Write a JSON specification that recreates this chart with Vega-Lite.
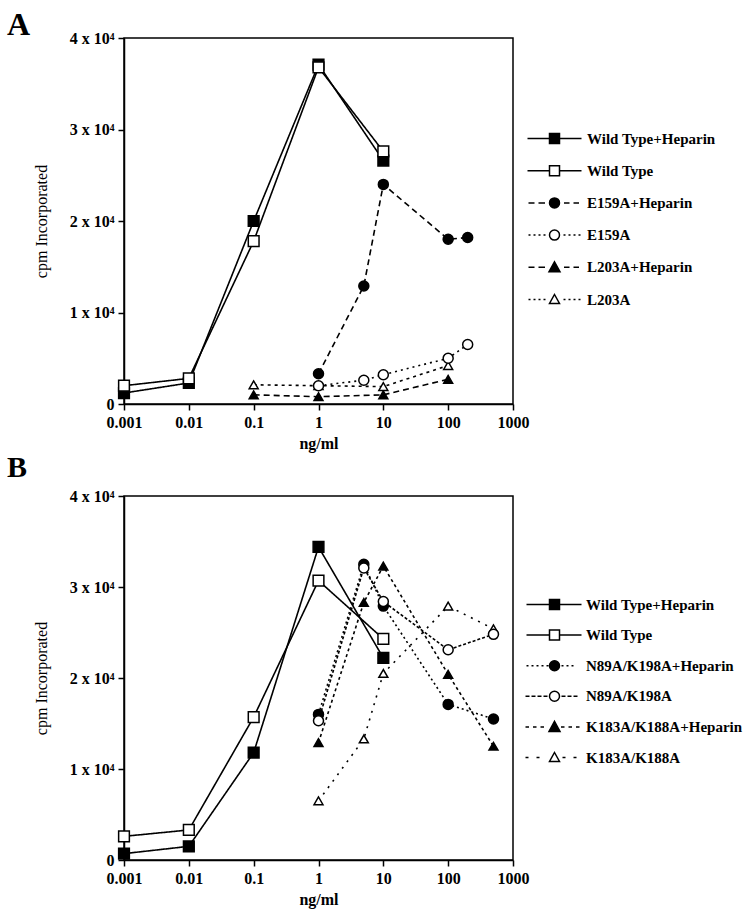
{
  "$schema": "https://vega.github.io/schema/vega-lite/v6.json",
  "padding": {"left": 6, "top": 8, "right": 5, "bottom": 5},
  "background": "white",
  "spacing": 0,
  "datasets": {
    "A": [
      {"series": "Wild Type+Heparin", "conc": 0.001, "cpm": 1200},
      {"series": "Wild Type+Heparin", "conc": 0.01, "cpm": 2300},
      {"series": "Wild Type+Heparin", "conc": 0.1, "cpm": 20000},
      {"series": "Wild Type+Heparin", "conc": 1, "cpm": 37100},
      {"series": "Wild Type+Heparin", "conc": 10, "cpm": 26600},
      {"series": "Wild Type", "conc": 0.001, "cpm": 2000},
      {"series": "Wild Type", "conc": 0.01, "cpm": 2800},
      {"series": "Wild Type", "conc": 0.1, "cpm": 17800},
      {"series": "Wild Type", "conc": 1, "cpm": 36800},
      {"series": "Wild Type", "conc": 10, "cpm": 27600},
      {"series": "E159A+Heparin", "conc": 1, "cpm": 3300},
      {"series": "E159A+Heparin", "conc": 5, "cpm": 12900},
      {"series": "E159A+Heparin", "conc": 10, "cpm": 24000},
      {"series": "E159A+Heparin", "conc": 100, "cpm": 18000},
      {"series": "E159A+Heparin", "conc": 200, "cpm": 18200},
      {"series": "E159A", "conc": 1, "cpm": 2000},
      {"series": "E159A", "conc": 5, "cpm": 2600},
      {"series": "E159A", "conc": 10, "cpm": 3200},
      {"series": "E159A", "conc": 100, "cpm": 5000},
      {"series": "E159A", "conc": 200, "cpm": 6500},
      {"series": "L203A+Heparin", "conc": 0.1, "cpm": 1000},
      {"series": "L203A+Heparin", "conc": 1, "cpm": 800},
      {"series": "L203A+Heparin", "conc": 10, "cpm": 1000},
      {"series": "L203A+Heparin", "conc": 100, "cpm": 2700},
      {"series": "L203A", "conc": 0.1, "cpm": 2100},
      {"series": "L203A", "conc": 1, "cpm": 2000},
      {"series": "L203A", "conc": 10, "cpm": 1900},
      {"series": "L203A", "conc": 100, "cpm": 4200}
    ],
    "B": [
      {"series": "Wild Type+Heparin", "conc": 0.001, "cpm": 700},
      {"series": "Wild Type+Heparin", "conc": 0.01, "cpm": 1500},
      {"series": "Wild Type+Heparin", "conc": 0.1, "cpm": 11800},
      {"series": "Wild Type+Heparin", "conc": 1, "cpm": 34400},
      {"series": "Wild Type+Heparin", "conc": 10, "cpm": 22200},
      {"series": "Wild Type", "conc": 0.001, "cpm": 2600},
      {"series": "Wild Type", "conc": 0.01, "cpm": 3300},
      {"series": "Wild Type", "conc": 0.1, "cpm": 15700},
      {"series": "Wild Type", "conc": 1, "cpm": 30700},
      {"series": "Wild Type", "conc": 10, "cpm": 24300},
      {"series": "N89A/K198A+Heparin", "conc": 1, "cpm": 16000},
      {"series": "N89A/K198A+Heparin", "conc": 5, "cpm": 32500},
      {"series": "N89A/K198A+Heparin", "conc": 10, "cpm": 27900},
      {"series": "N89A/K198A+Heparin", "conc": 100, "cpm": 17100},
      {"series": "N89A/K198A+Heparin", "conc": 500, "cpm": 15500},
      {"series": "N89A/K198A", "conc": 1, "cpm": 15300},
      {"series": "N89A/K198A", "conc": 5, "cpm": 32100},
      {"series": "N89A/K198A", "conc": 10, "cpm": 28400},
      {"series": "N89A/K198A", "conc": 100, "cpm": 23100},
      {"series": "N89A/K198A", "conc": 500, "cpm": 24800},
      {"series": "K183A/K188A+Heparin", "conc": 1, "cpm": 12900},
      {"series": "K183A/K188A+Heparin", "conc": 5, "cpm": 28300},
      {"series": "K183A/K188A+Heparin", "conc": 10, "cpm": 32300},
      {"series": "K183A/K188A+Heparin", "conc": 100, "cpm": 20400},
      {"series": "K183A/K188A+Heparin", "conc": 500, "cpm": 12500},
      {"series": "K183A/K188A", "conc": 1, "cpm": 6500},
      {"series": "K183A/K188A", "conc": 5, "cpm": 13300},
      {"series": "K183A/K188A", "conc": 10, "cpm": 20500},
      {"series": "K183A/K188A", "conc": 100, "cpm": 27900},
      {"series": "K183A/K188A", "conc": 500, "cpm": 25400}
    ]
  },
  "vconcat": [
    {
      "title": {"text": "A", "anchor": "start", "frame": "group", "fontSize": 32, "fontWeight": "bold", "font": "Liberation Serif", "dx": -117, "offset": -12, "color": "black"},
      "width": 389,
      "height": 366,
      "data": {"name": "A"},
      "encoding": {
        "x": {"field": "conc", "type": "quantitative", "scale": {"type": "log", "domain": [0.001, 1000]}, "axis": {"values": [0.001, 0.01, 0.1, 1, 10, 100, 1000], "format": "~g", "title": "ng/ml", "labelFlush": false, "labelFont": "Liberation Serif", "labelFontSize": 16, "labelFontWeight": "bold", "labelPadding": 4, "titleFont": "Liberation Serif", "titleFontSize": 16, "titleFontWeight": "bold", "titlePadding": 5}},
        "y": {"field": "cpm", "type": "quantitative", "scale": {"domain": [0, 40000]}, "axis": {"values": [0, 10000, 20000, 30000, 40000], "labelExpr": "datum.value == 0 ? '0' : format(datum.value / 10000, 'd') + ' x 10⁴'", "title": "cpm  Incorporated", "labelFlush": false, "labelFont": "Liberation Serif", "labelFontSize": 16, "labelFontWeight": "bold", "labelPadding": 4, "titleFont": "Liberation Serif", "titleFontSize": 16, "titleFontWeight": "normal", "titlePadding": 20}}
      },
      "resolve": {"scale": {"shape": "independent", "fill": "independent"}},
      "layer": [
        {
          "mark": {"type": "line", "color": "black", "strokeWidth": 1.6},
          "encoding": {
            "detail": {"field": "series", "type": "nominal"},
            "strokeDash": {"field": "series", "type": "nominal", "legend": null, "scale": {"domain": ["Wild Type+Heparin", "Wild Type", "E159A+Heparin", "E159A", "L203A+Heparin", "L203A"], "range": [[1, 0], [1, 0], [6, 4], [2, 4], [6, 4], [3, 4]]}}
          }
        },
        {
          "transform": [{"filter": {"field": "series", "oneOf": ["Wild Type+Heparin", "Wild Type"]}}],
          "mark": {"type": "point", "shape": "square", "filled": false, "color": "black", "strokeWidth": 1.5, "size": 115, "opacity": 1},
          "encoding": {
            "fill": {"field": "series", "type": "nominal", "legend": null, "scale": {"domain": ["Wild Type+Heparin", "Wild Type"], "range": ["black", "white"]}}
          }
        },
        {
          "transform": [{"filter": {"field": "series", "oneOf": ["L203A+Heparin", "L203A"]}}],
          "mark": {"type": "point", "shape": "triangle-up", "filled": false, "color": "black", "strokeWidth": 1.5, "size": 80, "opacity": 1},
          "encoding": {
            "fill": {"field": "series", "type": "nominal", "legend": null, "scale": {"domain": ["L203A+Heparin", "L203A"], "range": ["black", "white"]}}
          }
        },
        {
          "transform": [{"filter": {"field": "series", "oneOf": ["E159A+Heparin", "E159A"]}}],
          "mark": {"type": "point", "shape": "circle", "filled": false, "color": "black", "strokeWidth": 1.5, "size": 100, "opacity": 1},
          "encoding": {
            "fill": {"field": "series", "type": "nominal", "legend": null, "scale": {"domain": ["E159A+Heparin", "E159A"], "range": ["black", "white"]}}
          }
        },
        {
          "mark": {"type": "point", "filled": false, "color": "black", "strokeWidth": 1.5},
          "encoding": {
            "opacity": {"condition": {"test": "false", "value": 1}, "value": 0},
            "shape": {"field": "series", "type": "nominal",
              "scale": {"domain": ["Wild Type+Heparin", "Wild Type", "E159A+Heparin", "E159A", "L203A+Heparin", "L203A"],
                "range": [
                  "M-5.4,0L-1,0M1,0L5.4,0M-1,-1L1,-1L1,1L-1,1Z",
                  "M-5.4,0L-1,0M1,0L5.4,0M-1,-1L1,-1L1,1L-1,1Z",
                  "M-5.2,0L-4,0M-3.2,0L-1.9,0M1.9,0L3,0M3.8,0L4.9,0M-1,0A1,1,0,1,1,1,0A1,1,0,1,1,-1,0Z",
                  "M-5.2,0L-4.8,0M-4.2,0L-3.8,0M-3.2,0L-2.8,0M-2.2,0L-1.8,0M1.8,0L2.2,0M2.8,0L3.2,0M3.8,0L4.2,0M4.8,0L5.2,0M-1,0A1,1,0,1,1,1,0A1,1,0,1,1,-1,0Z",
                  "M-5.2,0L-4,0M-3.2,0L-1.9,0M1.9,0L3,0M3.8,0L4.9,0M0,-1.1L1.1,0.9L-1.1,0.9Z",
                  "M-5.2,0L-4.8,0M-4.2,0L-3.8,0M-3.2,0L-2.8,0M-2.2,0L-1.8,0M1.8,0L2.2,0M2.8,0L3.2,0M3.8,0L4.2,0M4.8,0L5.2,0M0,-1L1,0.8L-1,0.8Z"
                ]},
              "legend": {"title": null, "orient": "none", "legendX": 423, "legendY": 93, "symbolSize": 100, "symbolStrokeWidth": 1.5, "labelFont": "Liberation Serif", "labelFontSize": 15, "labelFontWeight": "bold", "labelColor": "black", "labelOffset": 25, "rowPadding": 15.2, "padding": 0, "labelLimit": 300}},
            "fill": {"field": "series", "type": "nominal",
              "scale": {"domain": ["Wild Type+Heparin", "Wild Type", "E159A+Heparin", "E159A", "L203A+Heparin", "L203A"], "range": ["black", "white", "black", "white", "black", "white"]},
              "legend": {"title": null, "orient": "none", "legendX": 423, "legendY": 93, "symbolSize": 100, "symbolStrokeWidth": 1.5, "labelFont": "Liberation Serif", "labelFontSize": 15, "labelFontWeight": "bold", "labelColor": "black", "labelOffset": 25, "rowPadding": 15.2, "padding": 0, "labelLimit": 300}}
          }
        }
      ]
    },
    {
      "title": {"text": "B", "anchor": "start", "frame": "group", "fontSize": 30, "fontWeight": "bold", "font": "Liberation Serif", "dx": -117, "offset": 5, "color": "black"},
      "width": 389,
      "height": 364,
      "data": {"name": "B"},
      "encoding": {
        "x": {"field": "conc", "type": "quantitative", "scale": {"type": "log", "domain": [0.001, 1000]}, "axis": {"values": [0.001, 0.01, 0.1, 1, 10, 100, 1000], "format": "~g", "title": "ng/ml", "labelFlush": false, "labelFont": "Liberation Serif", "labelFontSize": 16, "labelFontWeight": "bold", "labelPadding": 4, "titleFont": "Liberation Serif", "titleFontSize": 16, "titleFontWeight": "bold", "titlePadding": 5}},
        "y": {"field": "cpm", "type": "quantitative", "scale": {"domain": [0, 40000]}, "axis": {"values": [0, 10000, 20000, 30000, 40000], "labelExpr": "datum.value == 0 ? '0' : format(datum.value / 10000, 'd') + ' x 10⁴'", "title": "cpm  Incorporated", "labelFlush": false, "labelFont": "Liberation Serif", "labelFontSize": 16, "labelFontWeight": "bold", "labelPadding": 4, "titleFont": "Liberation Serif", "titleFontSize": 16, "titleFontWeight": "normal", "titlePadding": 20}}
      },
      "resolve": {"scale": {"shape": "independent", "fill": "independent"}},
      "layer": [
        {
          "mark": {"type": "line", "color": "black", "strokeWidth": 1.6},
          "encoding": {
            "detail": {"field": "series", "type": "nominal"},
            "strokeDash": {"field": "series", "type": "nominal", "legend": null, "scale": {"domain": ["Wild Type+Heparin", "Wild Type", "N89A/K198A+Heparin", "N89A/K198A", "K183A/K188A+Heparin", "K183A/K188A"], "range": [[1, 0], [1, 0], [2, 3], [3, 2], [3, 3], [2, 6]]}}
          }
        },
        {
          "transform": [{"filter": {"field": "series", "oneOf": ["Wild Type+Heparin", "Wild Type"]}}],
          "mark": {"type": "point", "shape": "square", "filled": false, "color": "black", "strokeWidth": 1.5, "size": 115, "opacity": 1},
          "encoding": {
            "fill": {"field": "series", "type": "nominal", "legend": null, "scale": {"domain": ["Wild Type+Heparin", "Wild Type"], "range": ["black", "white"]}}
          }
        },
        {
          "transform": [{"filter": {"field": "series", "oneOf": ["K183A/K188A+Heparin", "K183A/K188A"]}}],
          "mark": {"type": "point", "shape": "triangle-up", "filled": false, "color": "black", "strokeWidth": 1.5, "size": 80, "opacity": 1},
          "encoding": {
            "fill": {"field": "series", "type": "nominal", "legend": null, "scale": {"domain": ["K183A/K188A+Heparin", "K183A/K188A"], "range": ["black", "white"]}}
          }
        },
        {
          "transform": [{"filter": {"field": "series", "oneOf": ["N89A/K198A+Heparin", "N89A/K198A"]}}],
          "mark": {"type": "point", "shape": "circle", "filled": false, "color": "black", "strokeWidth": 1.5, "size": 100, "opacity": 1},
          "encoding": {
            "fill": {"field": "series", "type": "nominal", "legend": null, "scale": {"domain": ["N89A/K198A+Heparin", "N89A/K198A"], "range": ["black", "white"]}}
          }
        },
        {
          "mark": {"type": "point", "filled": false, "color": "black", "strokeWidth": 1.5},
          "encoding": {
            "opacity": {"condition": {"test": "false", "value": 1}, "value": 0},
            "shape": {"field": "series", "type": "nominal",
              "scale": {"domain": ["Wild Type+Heparin", "Wild Type", "N89A/K198A+Heparin", "N89A/K198A", "K183A/K188A+Heparin", "K183A/K188A"],
                "range": [
                  "M-5.6,0L-1,0M1,0L5.4,0M-1,-1L1,-1L1,1L-1,1Z",
                  "M-5.6,0L-1,0M1,0L5.4,0M-1,-1L1,-1L1,1L-1,1Z",
                  "M-5.6,0L-5.2,0M-4.6,0L-4.2,0M-3.6,0L-3.2,0M-2.6,0L-2.2,0M-1.6,0L-1.2,0M1.4,0L1.8,0M2.4,0L2.8,0M3.4,0L3.8,0M-1,0A1,1,0,1,1,1,0A1,1,0,1,1,-1,0Z",
                  "M-5.8,0L-5,0M-4.6,0L-3.8,0M-3.4,0L-2.6,0M-2.2,0L-1.4,0M1.4,0L2.2,0M2.6,0L3.4,0M3.8,0L4.6,0M-1,0A1,1,0,1,1,1,0A1,1,0,1,1,-1,0Z",
                  "M-5.8,0L-5.1,0M-4.3,0L-3.6,0M-2.8,0L-2.1,0M1.3,0L2,0M2.8,0L3.5,0M4.3,0L5,0M0,-1.1L1.1,0.9L-1.1,0.9Z",
                  "M-5.8,0L-5.2,0M-3.6,0L-3,0M1.6,0L2.2,0M3.8,0L4.4,0M0,-1L1,0.8L-1,0.8Z"
                ]},
              "legend": {"title": null, "orient": "none", "legendX": 423, "legendY": 101, "symbolSize": 100, "symbolStrokeWidth": 1.5, "labelFont": "Liberation Serif", "labelFontSize": 15, "labelFontWeight": "bold", "labelColor": "black", "labelOffset": 24, "rowPadding": 13.6, "padding": 0, "labelLimit": 300}},
            "fill": {"field": "series", "type": "nominal",
              "scale": {"domain": ["Wild Type+Heparin", "Wild Type", "N89A/K198A+Heparin", "N89A/K198A", "K183A/K188A+Heparin", "K183A/K188A"], "range": ["black", "white", "black", "white", "black", "white"]},
              "legend": {"title": null, "orient": "none", "legendX": 423, "legendY": 101, "symbolSize": 100, "symbolStrokeWidth": 1.5, "labelFont": "Liberation Serif", "labelFontSize": 15, "labelFontWeight": "bold", "labelColor": "black", "labelOffset": 24, "rowPadding": 13.6, "padding": 0, "labelLimit": 300}}
          }
        }
      ]
    }
  ],
  "resolve": {"scale": {"x": "independent", "y": "independent", "shape": "independent", "fill": "independent", "strokeDash": "independent"}},
  "config": {
    "font": "Liberation Serif",
    "view": {"stroke": "black", "strokeWidth": 1.5},
    "axis": {"grid": false, "domainColor": "black", "domainWidth": 1.5, "tickColor": "black", "tickWidth": 1.5, "tickSize": 6, "labelColor": "black", "titleColor": "black"}
  }
}
